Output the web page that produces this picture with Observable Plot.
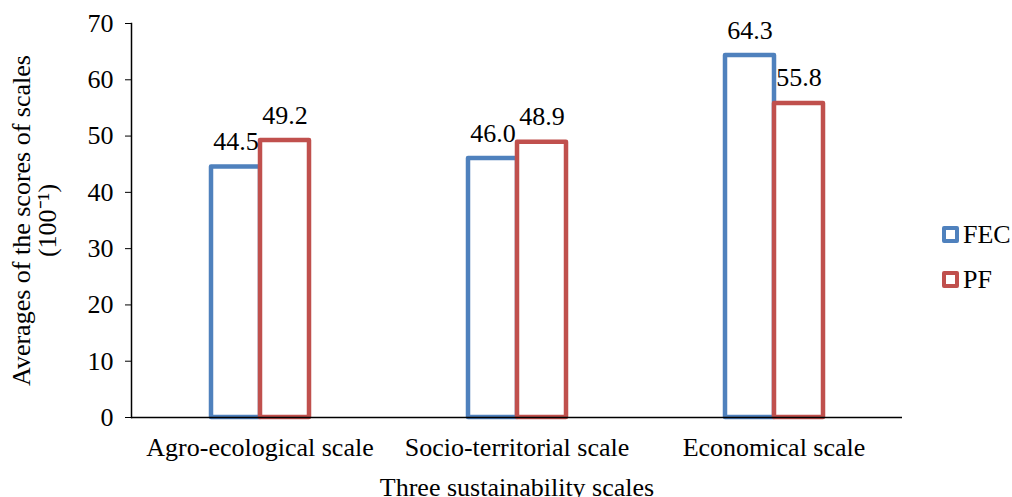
<!DOCTYPE html>
<html><head><meta charset="utf-8">
<script src="https://cdn.jsdelivr.net/npm/d3@7"></script>
<script src="https://cdn.jsdelivr.net/npm/@observablehq/plot@0.6"></script>
<style>
body{margin:0;background:#fff;}
#wrap{position:relative;width:1012px;height:497px;font-family:"Liberation Serif","Times New Roman",serif;}
#wrap svg, #wrap svg text{font-family:"Liberation Serif","Times New Roman",serif !important;}
.legend{position:absolute;left:942px;top:212px;font-size:26px;color:#000;font-family:"Liberation Serif","Times New Roman",serif;}
.item{display:flex;align-items:center;height:45px;}
.sw{width:9px;height:9px;border:4px solid;border-radius:2px;margin-right:4px;background:#fff;}
</style></head><body><div id="wrap"></div>
<script>
const categories = ["Agro-ecological scale", "Socio-territorial scale", "Economical scale"];
const series = ["FEC", "PF"];
const fecValues = [44.5, 46.0, 64.3];
const pfValues = [49.2, 48.9, 55.8];
const colors = ["#4F81BD", "#C0504D"];
const yTicks = [0, 10, 20, 30, 40, 50, 60, 70];

const data = categories.flatMap((c, i) => [
  {category: c, series: series[0], value: fecValues[i]},
  {category: c, series: series[1], value: pfValues[i]}
]);

const chart = Plot.plot({
  width: 1012, height: 497,
  marginLeft: 130, marginRight: 110, marginTop: 23, marginBottom: 80,
  style: {fontFamily: "'Liberation Serif', serif", fontSize: "26px", color: "#000", background: "#fff"},
  fx: {domain: categories, padding: 0},
  x: {domain: series, paddingInner: 0, paddingOuter: 1.57, axis: null},
  y: {domain: [0, 70]},
  color: {domain: series, range: colors},
  marks: [
    Plot.barY(data, {fx: "category", x: "series", y: "value", fill: "white", stroke: "series", strokeWidth: 4.5, strokeLinejoin: "round"}),
    Plot.text(data, {fx: "category", x: "series", y: "value", text: d => d.value.toFixed(1), lineAnchor: "bottom", dy: -17, fill: "black", fontSize: 26}),
    Plot.ruleY([0], {stroke: "black", strokeWidth: 1.5}),
    Plot.frame({anchor: "left", facetAnchor: "left", stroke: "black", strokeWidth: 1.5}),
    Plot.axisY({ticks: yTicks, tickSize: 6, tickPadding: 12, fontSize: 26,
      label: "Averages of the scores of scales\n(100⁻¹)", labelAnchor: "center", labelOffset: 120, labelArrow: "none"}),
    Plot.axisFx({anchor: "bottom", tickSize: 0, tickPadding: 20, fontSize: 26,
      label: "Three sustainability scales", labelAnchor: "center", labelOffset: 78})
  ]
});
const wrap = document.getElementById("wrap");
wrap.appendChild(chart);
const legend = document.createElement("div");
legend.className = "legend";
series.forEach((s, i) => {
  const item = document.createElement("div");
  item.className = "item";
  const sw = document.createElement("span");
  sw.className = "sw";
  sw.style.borderColor = colors[i];
  const t = document.createElement("span");
  t.textContent = s;
  item.appendChild(sw);
  item.appendChild(t);
  legend.appendChild(item);
});
wrap.appendChild(legend);
</script></body></html>
